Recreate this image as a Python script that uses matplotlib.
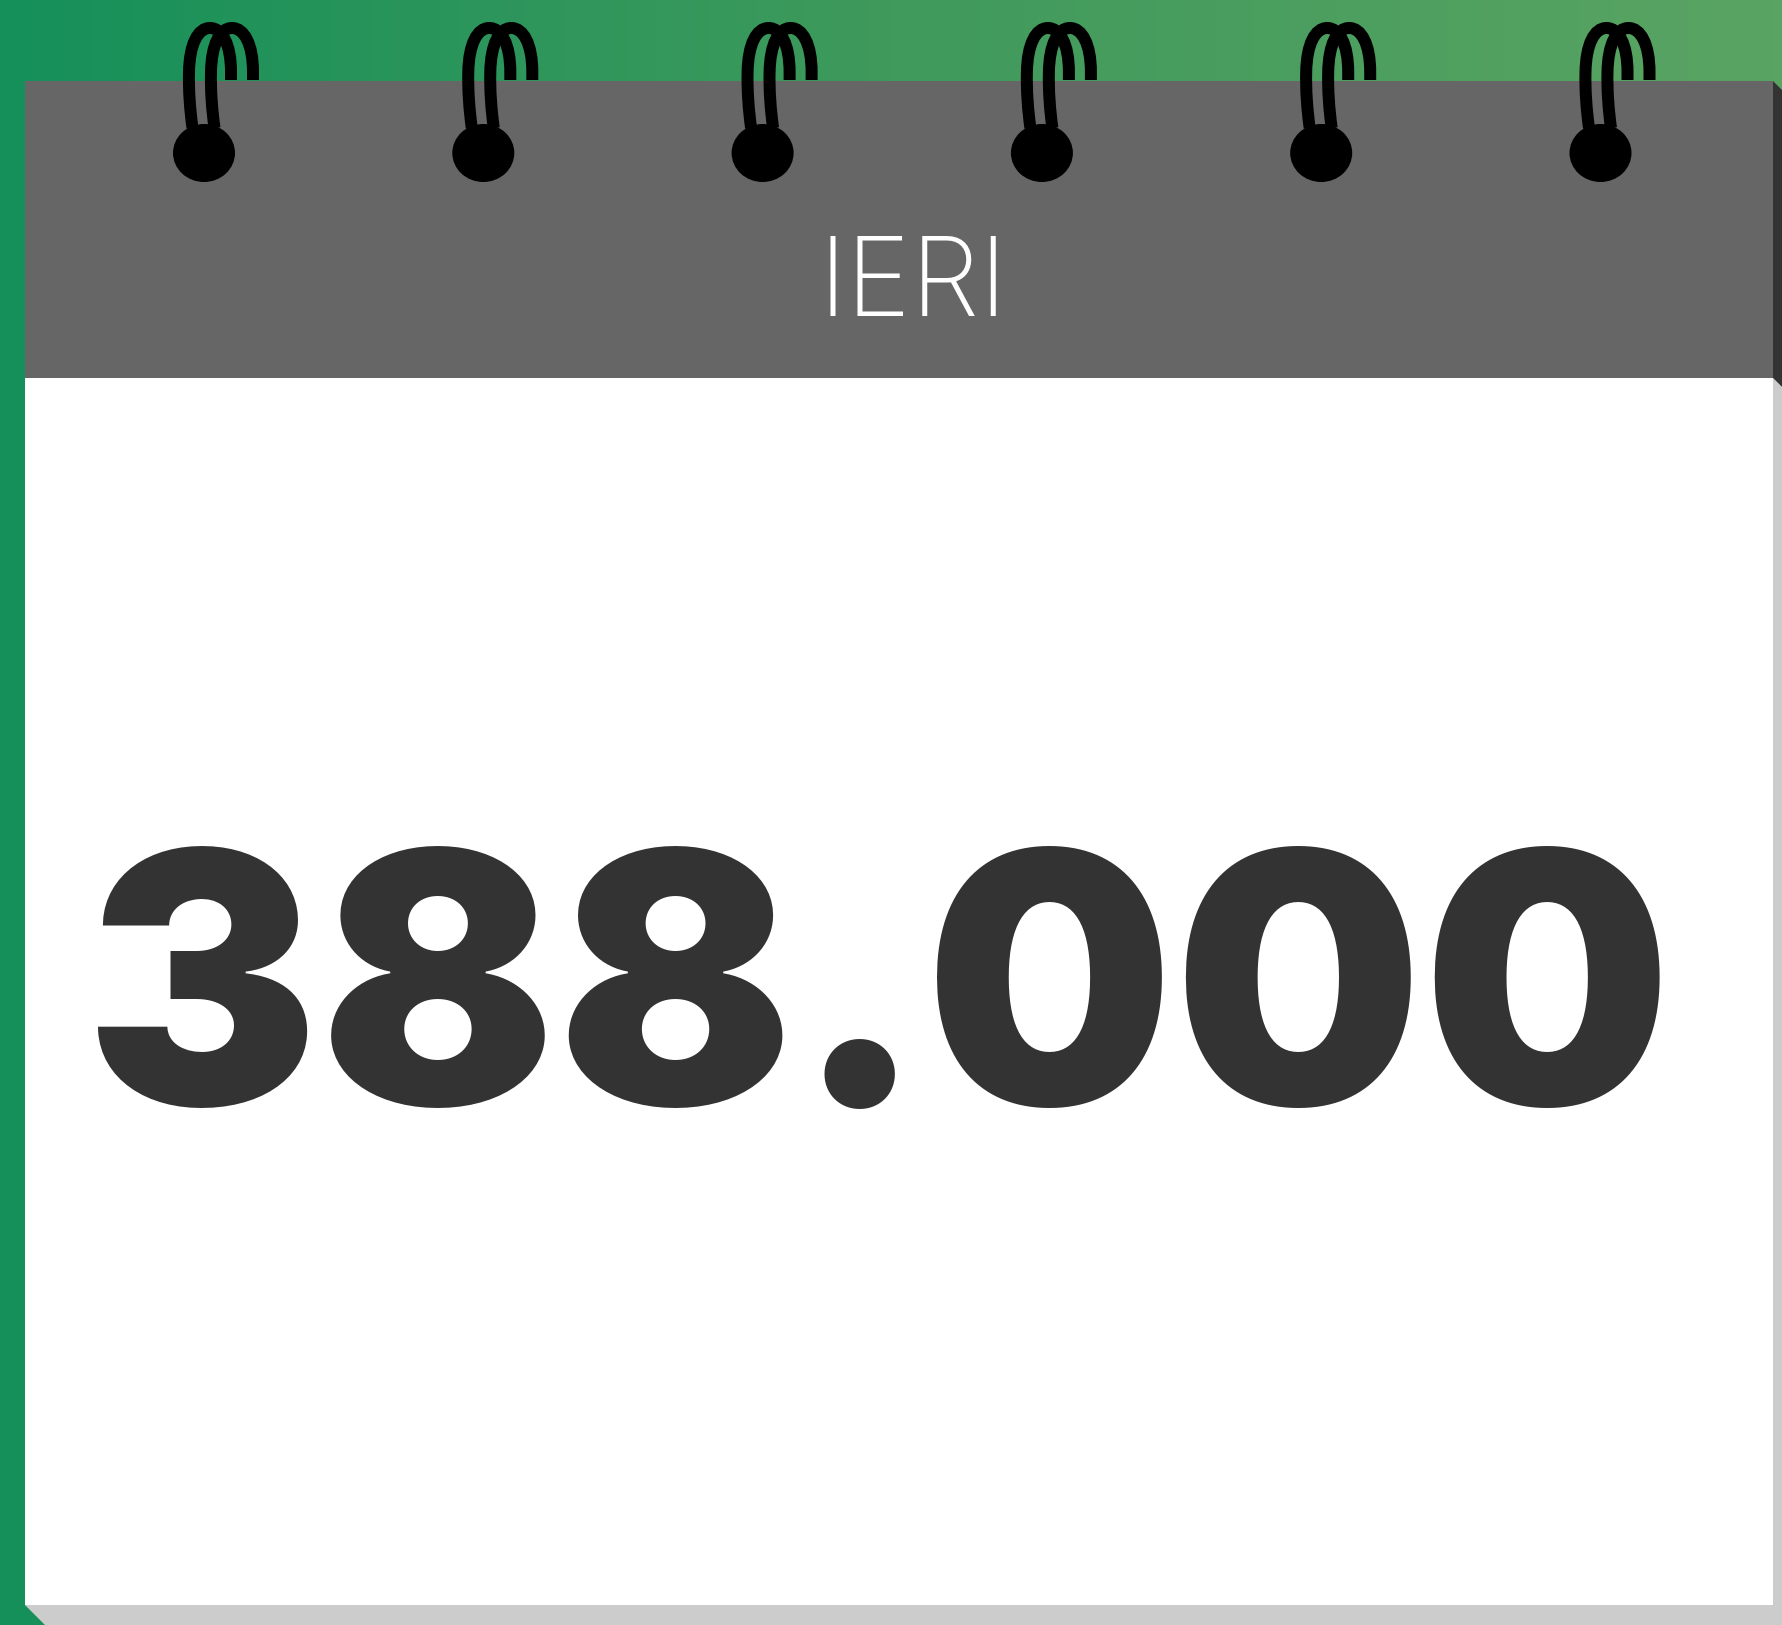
import matplotlib
matplotlib.use("Agg")
import matplotlib.pyplot as plt
import numpy as np
from matplotlib.patches import Rectangle, Polygon, Ellipse, PathPatch
from matplotlib.path import Path
from matplotlib.colors import LinearSegmentedColormap

# data
label = "IERI"
value = 388000
n_rings = 6

W, H = 1783, 1625

fig = plt.figure(figsize=(W / 100, H / 100), dpi=100)
ax = fig.add_axes([0, 0, 1, 1])
ax.set_xlim(0, W)
ax.set_ylim(H, 0)
ax.axis('off')

# green gradient background
cmap = LinearSegmentedColormap.from_list('bg', ['#16905a', '#3f9a5c', '#5aa463'])
grad = np.tile(np.linspace(0, 1, 400), (50, 1))
ax.imshow(grad, cmap=cmap, extent=(0, W, H, 0), aspect='auto', zorder=0)

# card
left, right = 25, 1773
head_top, head_bot, body_bot = 81, 378, 1605
ax.add_patch(Rectangle((left, head_top), right - left, head_bot - head_top,
                       facecolor='#666666', edgecolor='none', zorder=2))
ax.add_patch(Rectangle((left, head_bot), right - left, body_bot - head_bot,
                       facecolor='white', edgecolor='none', zorder=2))
# side / bottom shadow
ax.add_patch(Polygon([(right, head_top), (W, head_top + 10), (W, head_bot + 10), (right, head_bot)],
                     closed=True, facecolor='#333333', edgecolor='none', zorder=2))
ax.add_patch(Polygon([(right, head_bot), (W, head_bot + 10), (W, H), (left + 20, H),
                      (left, body_bot), (right, body_bot)],
                     closed=True, facecolor='#cccccc', edgecolor='none', zorder=2))

# spiral rings
def loop(cx, dx):
    verts = [(-11.5, 128), (-14, 110), (-15.5, 90), (-15, 72),
             (-14.5, 44), (-6, 28), (6, 28),
             (18, 28), (27, 44), (27, 72),
             (27, 80)]
    codes = [Path.MOVETO, Path.CURVE4, Path.CURVE4, Path.CURVE4,
             Path.CURVE4, Path.CURVE4, Path.CURVE4,
             Path.CURVE4, Path.CURVE4, Path.CURVE4,
             Path.LINETO]
    return Path([(cx + dx + x, y) for x, y in verts], codes)

lw = 12 * 72 / 100
for i in range(n_rings):
    cx = 204 + i * 279.3
    for dx in (0, 22):
        ax.add_patch(PathPatch(loop(cx, dx), facecolor='none', edgecolor='black',
                               linewidth=lw, capstyle='butt', zorder=3))
    ax.add_patch(Ellipse((cx, 153), 62, 58, facecolor='black', edgecolor='none', zorder=4))

# texts
ax.text(913, 316, label, ha='center', va='baseline', color='white',
        fontsize=79, family='Inter', fontweight='light', zorder=5)
num_txt = f"{value:,}".replace(',', '.')
ax.text(878, 1105, num_txt, ha='center', va='baseline', color='#333333',
        fontsize=252, family='Inter', fontweight='black', zorder=5)

fig.savefig("out.png", dpi=100)
